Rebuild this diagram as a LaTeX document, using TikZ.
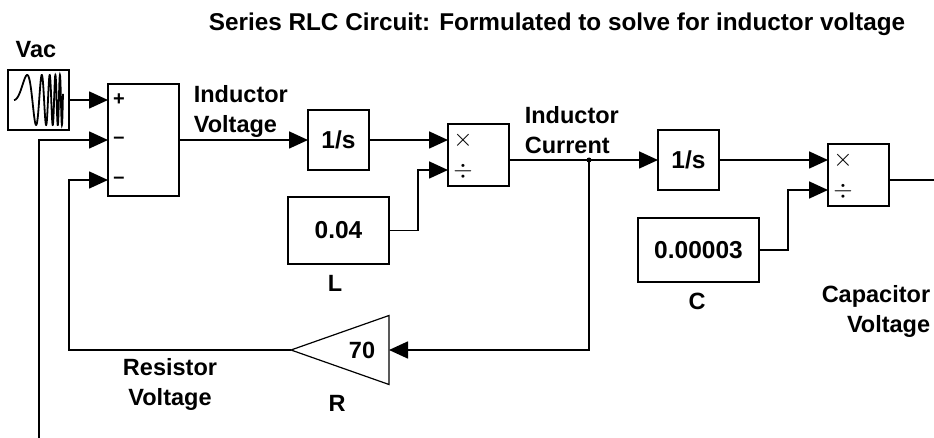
\documentclass[tikz,border=0pt]{standalone}
\usepackage{fontspec}
\setmainfont{Liberation Sans}
\usepackage{tikz}
\usetikzlibrary{arrows.meta,calc,shapes.geometric}

\begin{document}
\begin{tikzpicture}[x=1pt,y=-1pt,>={Triangle[length=19pt,width=17pt]},line width=1.7pt,
  blk/.style={draw,line width=1.7pt,inner sep=0pt,outer sep=0pt,anchor=north west,font=\bfseries\fontsize{24.5}{24.5}\selectfont},
  lbl/.style={inner sep=0pt,font=\bfseries\fontsize{23.5}{30}\selectfont,align=center},
  sgn/.style={inner sep=0pt,font=\bfseries\fontsize{20}{20}\selectfont},
  dvd/.style={inner sep=0pt,font=\fontsize{25}{25}\selectfont},
  opr/.style={inner sep=0pt,font=\fontsize{30}{30}\selectfont}]
  \useasboundingbox (0,0) rectangle (934,438);
  % blocks
  \node[blk,minimum width=61pt,minimum height=60pt] (vac) at (8,70) {};
  \node[blk,minimum width=71pt,minimum height=112pt] (sum) at (108,84) {};
  \node[blk,minimum width=61pt,minimum height=60pt] (intI) at (308,110) {1/s};
  \node[blk,minimum width=61pt,minimum height=62pt] (divL) at (448,124) {};
  \node[blk,minimum width=101pt,minimum height=67pt] (constL) at (288,197) {0.04};
  \node[blk,minimum width=61pt,minimum height=60pt] (intV) at (658,130) {1/s};
  \node[blk,minimum width=61pt,minimum height=62pt] (divC) at (828,144) {};
  \node[blk,minimum width=121pt,minimum height=64pt] (constC) at (638,218) {0.00003};
  \node[draw,line width=1.2pt,isosceles triangle,isosceles triangle stretches,shape border rotate=180,
    minimum width=69pt,minimum height=98pt,inner sep=0pt,outer sep=0pt,anchor=apex] (gainR) at (291,350) {};
  \node[lbl] (valR) at (362,350) {70};
  % source trace
  \draw[line width=1.8pt] plot[domain=0:49,samples=400] ({14+\x},{100-25*sin(0.5*\x*\x+0.0001*\x*\x*\x*\x)});
  % signs
  \node[sgn] (s1) at (119,100) {+};
  \node[sgn] (s2) at (119,140) {\textendash};
  \node[sgn] (s3) at (119,180) {\textendash};
  \node[opr] (m1) at (463,140) {$\times$};
  \node[dvd] (d1) at (463,171) {$\div$};
  \node[opr] (m2) at (843,160) {$\times$};
  \node[dvd] (d2) at (843,191) {$\div$};
  % ports
  \coordinate (fb) at (39,438);
  \coordinate (sumB) at (108,140);
  \coordinate (sumC) at (108,180);
  \coordinate (sumOut) at (179,140);
  \coordinate (divLb) at (448,170);
  \coordinate (divLout) at (509,160);
  \coordinate (divCb) at (828,190);
  \coordinate (divCout) at (889,180);
  \coordinate (out) at (934,180);
  \coordinate (jn) at (589,160);
  % connectors
  \draw[->] (vac.east |- 0,100) -- (sum.west |- 0,100);
  \draw[->] (fb) |- (sumB);
  \draw[->] (gainR.apex) -| (69,180) -- (sumC);
  \draw[->] (sumOut) -- (intI.west);
  \draw[->] (intI.east) -- (divL.west |- intI.east);
  \draw[->] (constL.east) -| (418,170) -- (divLb);
  \draw[->] (divLout) -- (intV.west);
  \draw[->] (jn) |- (gainR.lower side);
  \fill (jn) circle (2.5pt);
  \draw[->] (intV.east) -- (divC.west |- intV.east);
  \draw[->] (constC.east) -| (788,190) -- (divCb);
  \draw (divCout) -- (out);
  % labels
  \node[lbl,font=\bfseries\fontsize{24.3}{30}\selectfont] (title) at (557,24) {Series RLC Circuit: Formulated to solve for inductor voltage};
  \node[lbl] (vaclbl) at (36,50) {Vac};
  \node[lbl,anchor=west,align=left] (indV) at (193,111) {Inductor\\Voltage};
  \node[lbl,anchor=west,align=left] (indC) at (524,130) {Inductor\\Current};
  \node[lbl] (lblL) at (335,283) {L};
  \node[lbl] (lblC) at (697,301) {C};
  \node[lbl,anchor=east,align=right] (capV) at (931,311) {Capacitor\\Voltage};
  \node[lbl] (resV) at (170,384) {Resistor\\Voltage};
  \node[lbl] (lblR) at (337,403) {R};
\end{tikzpicture}
\end{document}
